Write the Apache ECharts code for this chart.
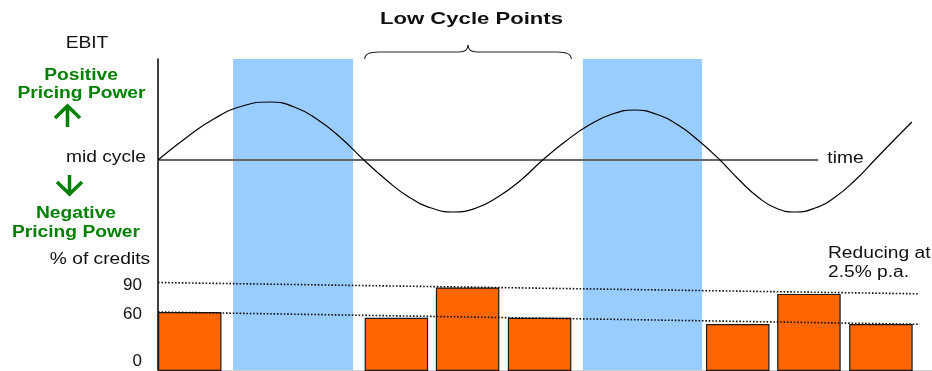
<!DOCTYPE html>
<html>
<head>
<meta charset="utf-8">
<script src="https://cdn.jsdelivr.net/npm/echarts@6/dist/echarts.min.js"></script>
<style>
  html, body { margin: 0; padding: 0; background: #fff; overflow: hidden; }
  #chart { width: 932px; height: 371px; }
</style>
</head>
<body>
<div id="chart"></div>
<script>
// Time runs 0–100 across the plot; EBIT is an index around mid cycle (0).
const ebitTime   = [0, 3.6, 7.2, 10.9, 14.5, 17.6, 20.5, 23.5, 26.6, 29.5, 32.4, 35.3, 38.1, 41.1, 43.9, 46.9,
                    49.7, 52.7, 55.7, 58.7, 61.6, 64.3, 67.2, 69.9, 72.6, 75.1, 77.5, 79.8, 82.3, 84.9,
                    87.5, 90.1, 92.6, 95.1, 97.4];
const ebitValues = [0, 2.2, 4.1, 5.4, 5.8, 5.3, 4.1, 2.3, 0, -2.0, -3.7, -4.8, -5.2, -4.8, -3.7, -2.0,
                    0, 1.9, 3.5, 4.6, 5.0, 4.6, 3.5, 1.9, 0, -2.0, -3.7, -4.8, -5.2, -4.8,
                    -3.7, -2.0, 0, 2.0, 3.8];
const midCycleEnd = 85.3;

// Share of credits per period
const creditPeriods = [4.1, 30.8, 40.0, 49.3, 74.9, 84.1, 93.4];
const creditShares  = [60, 54.2, 84.9, 54.2, 47.7, 78.4, 47.7];
const creditTicks   = [0, 60, 90];

// Trend lines falling 2.5% p.a.
const upperTrend = [[0, 90], [98.4, 78.5]];
const lowerTrend = [[0, 60], [98.4, 47.5]];

// Peak-cycle periods (shaded) and the low-cycle span marked by the brace
const peakPeriods  = [[9.7, 25.2], [54.9, 70.3]];
const lowCycleSpan = [26.7, 53.4];

const FONT = '"Liberation Sans", Arial, sans-serif';
const GREEN = '#008000';

const chart = echarts.init(document.getElementById('chart'), null, { renderer: 'canvas' });

function text(str, x, y, o) {
  o = o || {};
  const align = o.align || 'center';
  return {
    type: 'text', x: x, y: y + 1.5, scaleX: o.scaleX || 1.2, silent: true,
    style: {
      text: str, fill: o.color || '#111', fontFamily: FONT,
      fontSize: o.size || 16, fontWeight: o.bold ? 'bold' : 'normal',
      align: align, textAlign: align, verticalAlign: 'middle', textVerticalAlign: 'middle'
    }
  };
}

function arrow(x, yTip, yTail, dir) {
  const h = 12 * dir; // head depth (dir = 1 points up, -1 points down)
  return [
    { type: 'polyline', silent: true, shape: { points: [[x - 12.5, yTip + h], [x, yTip], [x + 12.5, yTip + h]] },
      style: { stroke: GREEN, lineWidth: 3.5, fill: null } },
    { type: 'line', silent: true, shape: { x1: x, y1: yTip, x2: x, y2: yTail },
      style: { stroke: GREEN, lineWidth: 3.5 } }
  ];
}

const labelRich = {
  n: { fontSize: 17, fontFamily: FONT, color: '#111', padding: [5, 0, 0, 0] },
  z: { fontSize: 17, fontFamily: FONT, color: '#111', padding: [0, 0, 19, 0] }
};

const option = {
  animation: false,
  backgroundColor: '#fff',
  grid: [
    { left: 158, right: 0, top: 59, bottom: 1 },          // EBIT cycle
    { left: 158, right: 0, top: 272.67, bottom: -5 }      // % of credits
  ],
  xAxis: [
    { gridIndex: 0, type: 'value', min: 0, max: 100,
      axisLine: { show: true, onZero: false, lineStyle: { color: '#d0d0d0', width: 1 } },
      axisTick: { show: false }, axisLabel: { show: false }, splitLine: { show: false } },
    { gridIndex: 1, type: 'value', min: 0, max: 100, show: false }
  ],
  yAxis: [
    { gridIndex: 0, type: 'value', min: -21, max: 10.1,
      axisLine: { show: true, onZero: false, lineStyle: { color: '#000', width: 1.5 } },
      axisTick: { show: false }, axisLabel: { show: false }, splitLine: { show: false } },
    { gridIndex: 1, type: 'value', min: 0, max: 100,
      axisLine: { show: false }, axisTick: { show: false }, splitLine: { show: false },
      axisLabel: {
        customValues: creditTicks, margin: 16, fontSize: 17, fontFamily: FONT, color: '#111',
        formatter: v => v === 0 ? '{z|0}' : '{n|' + v + '}',
        rich: labelRich
      } }
  ],
  series: [
    { // shaded peak periods
      type: 'line', xAxisIndex: 0, yAxisIndex: 0, data: [], z: 0, silent: true,
      markArea: { silent: true, z: 0, itemStyle: { color: '#99CCFF' },
        data: peakPeriods.map(p => [{ xAxis: p[0] }, { xAxis: p[1] }]) }
    },
    { // mid-cycle line
      type: 'line', xAxisIndex: 0, yAxisIndex: 0, z: 3, silent: true, symbol: 'none',
      data: [[0, 0], [midCycleEnd, 0]],
      lineStyle: { color: '#666', width: 1.8 }
    },
    { // EBIT cycle
      type: 'line', xAxisIndex: 0, yAxisIndex: 0, z: 4, silent: true, symbol: 'none',
      smooth: true,
      data: ebitTime.map((t, i) => [t, ebitValues[i]]),
      lineStyle: { color: '#000', width: 1.2 }
    },
    { // % of credits
      type: 'bar', xAxisIndex: 1, yAxisIndex: 1, z: 2, silent: true, barWidth: 63.5,
      data: creditPeriods.map((t, i) => [t, creditShares[i]]),
      itemStyle: { color: '#FF6600', borderColor: '#1a1a1a', borderWidth: 1.2 }
    },
    { type: 'line', xAxisIndex: 1, yAxisIndex: 1, z: 5, silent: true, symbol: 'none',
      data: upperTrend, lineStyle: { color: '#111', width: 1.6, type: [1.6, 1.8] } },
    { type: 'line', xAxisIndex: 1, yAxisIndex: 1, z: 5, silent: true, symbol: 'none',
      data: lowerTrend, lineStyle: { color: '#111', width: 1.6, type: [1.6, 1.8] } }
  ]
};

chart.setOption(option);

// Brace over the low-cycle span
const xa = chart.convertToPixel({ gridIndex: 0 }, [lowCycleSpan[0], 0])[0];
const xb = chart.convertToPixel({ gridIndex: 0 }, [lowCycleSpan[1], 0])[0];
const xm = (xa + xb) / 2;
const yb = 59, yl = 52, yt = 45;
const braceStyle = { stroke: '#222', lineWidth: 1.1, fill: null };
const brace = [
  { type: 'bezierCurve', shape: { x1: xa, y1: yb, x2: xa + 14, y2: yl, cpx1: xa, cpy1: yl } },
  { type: 'line', shape: { x1: xa + 14, y1: yl, x2: xm - 9, y2: yl } },
  { type: 'bezierCurve', shape: { x1: xm - 9, y1: yl, x2: xm, y2: yt, cpx1: xm, cpy1: yl } },
  { type: 'bezierCurve', shape: { x1: xm, y1: yt, x2: xm + 9, y2: yl, cpx1: xm, cpy1: yl } },
  { type: 'line', shape: { x1: xm + 9, y1: yl, x2: xb - 14, y2: yl } },
  { type: 'bezierCurve', shape: { x1: xb - 14, y1: yl, x2: xb, y2: yb, cpx1: xb, cpy1: yl } }
].map(el => Object.assign(el, { silent: true, style: braceStyle }));

chart.setOption({
  graphic: [
    text('Low Cycle Points', 471.5, 18, { bold: true, size: 17, scaleX: 1.3 }),
    ...brace,
    text('EBIT', 87, 42),
    text('Positive', 81, 74, { bold: true, color: GREEN }),
    text('Pricing Power', 81.5, 92, { bold: true, color: GREEN }),
    ...arrow(67.5, 106, 127, 1),
    text('mid cycle', 106, 156),
    ...arrow(69.5, 194, 175, -1),
    text('Negative', 76, 212, { bold: true, color: GREEN }),
    text('Pricing Power', 76, 231, { bold: true, color: GREEN }),
    text('% of credits', 100, 258),
    text('time', 845.5, 157),
    text('Reducing at', 828, 252, { align: 'left' }),
    text('2.5% p.a.', 828, 271, { align: 'left' })
  ]
});
</script>
</body>
</html>
